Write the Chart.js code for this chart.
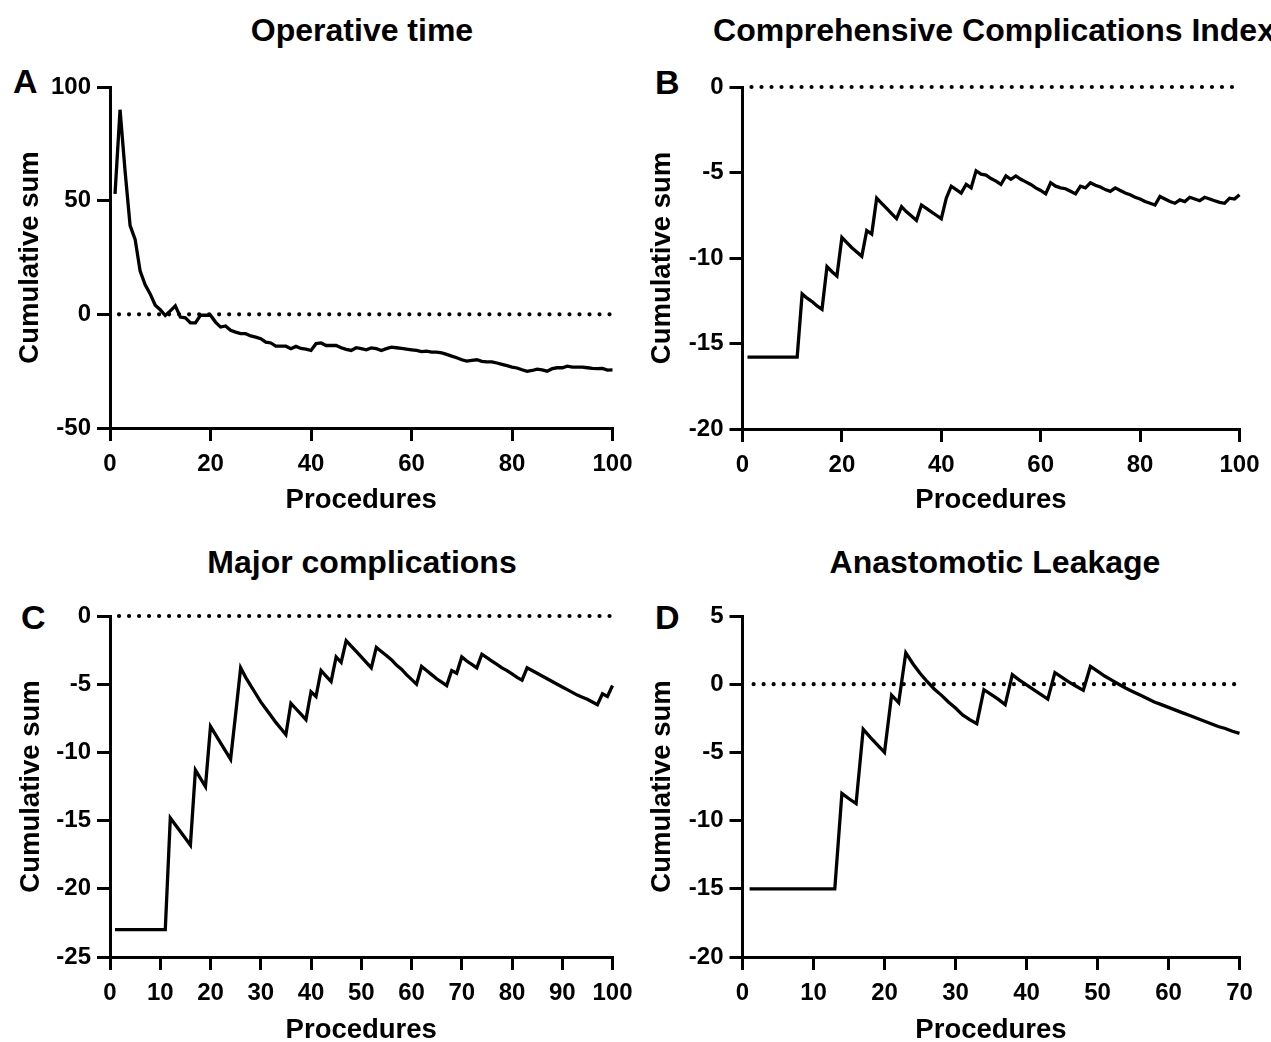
<!DOCTYPE html>
<html>
<head>
<meta charset="utf-8">
<script src="https://cdn.jsdelivr.net/npm/chart.js@4.4.1/dist/chart.umd.min.js"></script>
<style>
  html, body { margin: 0; padding: 0; background: #fff; overflow: hidden; width: 1271px; height: 1042px; }
  body { position: relative; font-family: "Liberation Sans", Arial, sans-serif; font-weight: bold; color: #000; }
  canvas { position: absolute; }
  .title { position: absolute; width: 700px; text-align: center; font-size: 32px; line-height: 36px; white-space: nowrap; }
  .letter { position: absolute; font-size: 34px; line-height: 40px; }
</style>
</head>
<body>
<div class="title" style="left:12px; top:12px;">Operative time</div>
<div class="title" style="left:644px; top:12px;">Comprehensive Complications Index</div>
<div class="title" style="left:12px; top:544px;">Major complications</div>
<div class="title" style="left:645px; top:544px;">Anastomotic Leakage</div>
<div class="letter" style="left:13px; top:61px;">A</div>
<div class="letter" style="left:655px; top:62px;">B</div>
<div class="letter" style="left:21px; top:597px;">C</div>
<div class="letter" style="left:655px; top:597px;">D</div>

<canvas id="chartA" width="636" height="530" style="left:0px; top:0px;"></canvas>
<canvas id="chartB" width="635" height="530" style="left:636px; top:0px;"></canvas>
<canvas id="chartC" width="636" height="530" style="left:0px; top:530px;"></canvas>
<canvas id="chartD" width="635" height="530" style="left:636px; top:530px;"></canvas>

<script>
// cumulative sum per procedure (procedure 1..n)
const operativeTime = [
  53, 90, 63, 39, 33, 19, 13, 9, 4, 2,
  -0.5, 1.5, 3.7, -1.2, -1.5, -3.8, -3.8, -0.4, -0.4, -0.4,
  -3.4, -5.6, -5.1, -7, -7.8, -8.5, -8.5, -9.5, -10, -10.7,
  -12.2, -12.6, -14, -14, -14, -15.1, -14.1, -15, -15.3, -15.9,
  -12.9, -12.6, -13.7, -13.7, -13.7, -14.7, -15.4, -15.9, -14.7, -15.1,
  -15.6, -14.8, -15.1, -15.9, -15.1, -14.4, -14.7, -15, -15.3, -15.6,
  -15.9, -16.4, -16.2, -16.6, -16.6, -17, -17.6, -18.4, -19.1, -20,
  -20.6, -20.3, -20, -20.7, -20.9, -20.9, -21.4, -22, -22.6, -23.2,
  -23.6, -24.4, -25.1, -24.7, -24.1, -24.4, -25, -23.9, -23.5, -23.5,
  -22.8, -23.2, -23.2, -23.2, -23.5, -23.8, -23.9, -23.8, -24.5, -24.4
];
const cciSum = [
  -15.8, -15.8, -15.8, -15.8, -15.8, -15.8, -15.8, -15.8, -15.8, -15.8,
  -15.8, -12.1, -12.35, -12.55, -12.8, -13.0, -10.5, -10.8, -11.05, -8.8,
  -9.1, -9.4, -9.65, -9.9, -8.4, -8.6, -6.5, -6.8, -7.1, -7.4,
  -7.7, -7.0, -7.3, -7.55, -7.8, -6.9, -7.1, -7.3, -7.5, -7.7,
  -6.5, -5.8, -6.0, -6.2, -5.7, -5.9, -4.9, -5.1, -5.15, -5.35,
  -5.5, -5.7, -5.2, -5.4, -5.2, -5.4, -5.55, -5.7, -5.9, -6.05,
  -6.25, -5.6, -5.8, -5.9, -5.95, -6.1, -6.25, -5.8, -5.9, -5.6,
  -5.75, -5.85, -6.0, -6.1, -5.9, -6.05, -6.2, -6.3, -6.45, -6.55,
  -6.7, -6.8, -6.9, -6.4, -6.55, -6.7, -6.8, -6.6, -6.7, -6.45,
  -6.55, -6.65, -6.45, -6.55, -6.65, -6.75, -6.8, -6.5, -6.55, -6.3
];
const majorComplications = [
  -23, -23, -23, -23, -23, -23, -23, -23, -23, -23,
  -23, -14.8, -15.3, -15.8, -16.3, -16.8, -11.3, -11.9, -12.5, -8.1,
  -8.7, -9.3, -9.9, -10.5, -7.2, -3.8, -4.5, -5.1, -5.7, -6.3,
  -6.8, -7.3, -7.8, -8.25, -8.7, -6.4, -6.8, -7.2, -7.6, -5.55,
  -5.9, -4.0, -4.4, -4.8, -3.0, -3.4, -1.8, -2.2, -2.6, -3.0,
  -3.4, -3.8, -2.3, -2.6, -2.9, -3.2, -3.6, -3.9, -4.3, -4.65,
  -5.0, -3.7, -4.0, -4.3, -4.6, -4.85, -5.1, -4.0, -4.2, -3.0,
  -3.3, -3.55, -3.8, -2.8, -3.05, -3.3, -3.55, -3.8, -4.0, -4.25,
  -4.5, -4.7, -3.8, -4.0, -4.2, -4.4, -4.6, -4.8, -5.0, -5.2,
  -5.4, -5.6, -5.8, -5.95, -6.1, -6.3, -6.5, -5.7, -5.9, -5.1
];
const leakage = [
  -15, -15, -15, -15, -15, -15, -15, -15, -15, -15,
  -15, -15, -15, -8.0, -8.4, -8.75, -3.3, -3.9, -4.45, -5.0,
  -0.8, -1.35, 2.3, 1.5, 0.8, 0.2, -0.35, -0.8, -1.3, -1.75,
  -2.25, -2.6, -2.9, -0.4, -0.75, -1.1, -1.5, 0.7, 0.3, -0.05,
  -0.4, -0.75, -1.1, 0.85, 0.5, 0.15, -0.15, -0.45, 1.3, 0.95,
  0.6, 0.3, 0.0, -0.3, -0.55, -0.8, -1.05, -1.3, -1.5, -1.7,
  -1.9, -2.1, -2.3, -2.5, -2.7, -2.9, -3.1, -3.25, -3.45, -3.6
];

// tick values
const xTicks100 = [0, 20, 40, 60, 80, 100];
const xTicks100by10 = [0, 10, 20, 30, 40, 50, 60, 70, 80, 90, 100];
const xTicks70 = [0, 10, 20, 30, 40, 50, 60, 70];
const yTicksA = [-50, 0, 50, 100];
const yTicksB = [-20, -15, -10, -5, 0];
const yTicksC = [-25, -20, -15, -10, -5, 0];
const yTicksD = [-20, -15, -10, -5, 0, 5];

Chart.defaults.font.family = "'Liberation Sans', Arial, sans-serif";
Chart.defaults.color = '#000';

const tickFont = { size: 24, weight: 'bold' };
const titleFont = { size: 27.5, weight: 'bold' };

function axisGrid() {
  return { drawOnChartArea: false, drawTicks: true, tickLength: 13, tickWidth: 3, tickColor: '#000', color: '#000', lineWidth: 3 };
}

function makeChart(id, values, xTicks, yTicks, box) {
  const points = values.map((v, i) => ({ x: i + 1, y: v }));
  const zeroLine = [{ x: 1, y: 0 }, { x: values.length, y: 0 }];

  new Chart(document.getElementById(id), {
    type: 'line',
    data: {
      datasets: [
        {
          data: zeroLine, borderColor: '#000', borderWidth: 4.2,
          borderDash: [0.01, 10], borderDashOffset: 6, borderCapStyle: 'round',
          pointRadius: 0, clip: false
        },
        {
          data: points, borderColor: '#000', borderWidth: 3.3,
          pointRadius: 0, tension: 0, clip: false
        }
      ]
    },
    options: {
      responsive: false,
      animation: false,
      events: [],
      layout: { padding: { left: 0, top: box.top, right: box.w - box.right, bottom: 0 } },
      plugins: { legend: { display: false }, tooltip: { enabled: false } },
      scales: {
        x: {
          type: 'linear',
          min: xTicks[0],
          max: xTicks[xTicks.length - 1],
          afterBuildTicks: s => { s.ticks = xTicks.map(v => ({ value: v })); },
          afterFit: s => { s.height = box.h - box.bottom; s.paddingLeft = 0; s.paddingRight = 0; },
          grid: axisGrid(),
          border: { display: true, color: '#000', width: 3 },
          ticks: { font: tickFont, color: '#000', padding: 9, autoSkip: false, maxRotation: 0 },
          title: { display: true, text: 'Procedures', font: titleFont, color: '#000',
                   padding: { top: 0, bottom: box.h - 16.5 - box.xTitle } }
        },
        y: {
          type: 'linear',
          min: yTicks[0],
          max: yTicks[yTicks.length - 1],
          afterBuildTicks: s => { s.ticks = yTicks.map(v => ({ value: v })); },
          afterFit: s => { s.width = box.left; s.paddingTop = 0; s.paddingBottom = 0; },
          grid: axisGrid(),
          border: { display: true, color: '#000', width: 3 },
          ticks: { font: tickFont, color: '#000', padding: 6, autoSkip: false },
          title: { display: true, text: 'Cumulative sum', font: titleFont, color: '#000',
                   padding: { top: box.yTitle - 16.5, bottom: 0 } }
        }
      }
    }
  });
}

makeChart('chartA', operativeTime, xTicks100, yTicksA,
  { w: 636, h: 530, left: 110, right: 612.5, top: 87, bottom: 428, xTitle: 500, yTitle: 30 });
makeChart('chartB', cciSum, xTicks100, yTicksB,
  { w: 635, h: 530, left: 106.5, right: 603.5, top: 87, bottom: 429, xTitle: 500, yTitle: 26 });
makeChart('chartC', majorComplications, xTicks100by10, yTicksC,
  { w: 636, h: 530, left: 110, right: 612.5, top: 86, bottom: 427, xTitle: 500, yTitle: 31 });
makeChart('chartD', leakage, xTicks70, yTicksD,
  { w: 635, h: 530, left: 106.5, right: 603.5, top: 86, bottom: 427, xTitle: 500, yTitle: 26 });
</script>
</body>
</html>
